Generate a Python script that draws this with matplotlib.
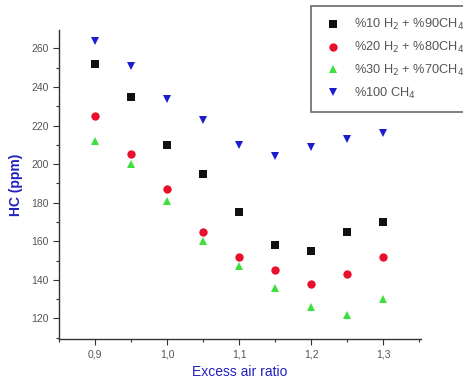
import matplotlib
matplotlib.use("Agg")
import matplotlib.pyplot as plt
from matplotlib.ticker import MultipleLocator, FuncFormatter

plt.rcParams['font.family'] = ['Liberation Sans', 'DejaVu Sans']

excess_air = [0.90, 0.95, 1.00, 1.05, 1.10, 1.15, 1.20, 1.25, 1.30]
hc_h2_10 = [252, 235, 210, 195, 175, 158, 155, 165, 170]
hc_h2_20 = [225, 205, 187, 165, 152, 145, 138, 143, 152]
hc_h2_30 = [212, 200, 181, 160, 147, 136, 126, 122, 130]
hc_ch4_100 = [264, 251, 234, 223, 210, 204, 209, 213, 216]

labels = [r"%10 H$_2$ + %90CH$_4$", r"%20 H$_2$ + %80CH$_4$",
          r"%30 H$_2$ + %70CH$_4$", r"%100 CH$_4$"]

fig = plt.figure(figsize=(4.64, 3.82), dpi=100)
ax = fig.add_axes([0.127, 0.1134, 0.78, 0.808])

series = [
    (hc_h2_10, 's', '#111111'),
    (hc_h2_20, 'o', '#e8102c'),
    (hc_h2_30, '^', '#3de03d'),
    (hc_ch4_100, 'v', '#1c1ccc'),
]
handles = []
for (vals, mk, col), lab in zip(series, labels):
    h, = ax.plot(excess_air, vals, linestyle='none', marker=mk, markersize=6,
                 color=col, markeredgewidth=0, label=lab)
    handles.append(h)

ax.set_xlim(0.85, 1.352)
ax.set_ylim(109.5, 269.5)
ax.xaxis.set_major_locator(MultipleLocator(0.1))
ax.xaxis.set_minor_locator(MultipleLocator(0.05))
ax.yaxis.set_major_locator(MultipleLocator(20))
ax.yaxis.set_minor_locator(MultipleLocator(10))
ax.xaxis.set_major_formatter(FuncFormatter(lambda v, p: f"{v:.1f}".replace('.', ',')))

for side in ('top', 'right'):
    ax.spines[side].set_visible(False)
for side in ('left', 'bottom'):
    ax.spines[side].set_color('#333333')
    ax.spines[side].set_linewidth(1.0)

ax.tick_params(which='major', direction='out', length=4, width=0.8,
               colors='#333333', labelsize=7.5, labelcolor='#555555')
ax.tick_params(which='minor', direction='out', length=2, width=0.8, colors='#333333')

ax.set_ylabel("HC (ppm)", color='#2020c0', fontsize=10, fontweight='bold', labelpad=6)
ax.set_xlabel("Excess air ratio", color='#2020c0', fontsize=10, labelpad=4)

leg = fig.legend(handles=handles, loc='upper left', bbox_to_anchor=(0.670, 0.985),
                 borderaxespad=0, frameon=True, fontsize=9.2, handletextpad=0.9,
                 borderpad=0.9, labelspacing=0.6, handlelength=1.6, fancybox=False,
                 edgecolor='#444444', labelcolor='#555555')
leg.get_frame().set_linewidth(1.2)

fig.savefig("out.png", dpi=100)
